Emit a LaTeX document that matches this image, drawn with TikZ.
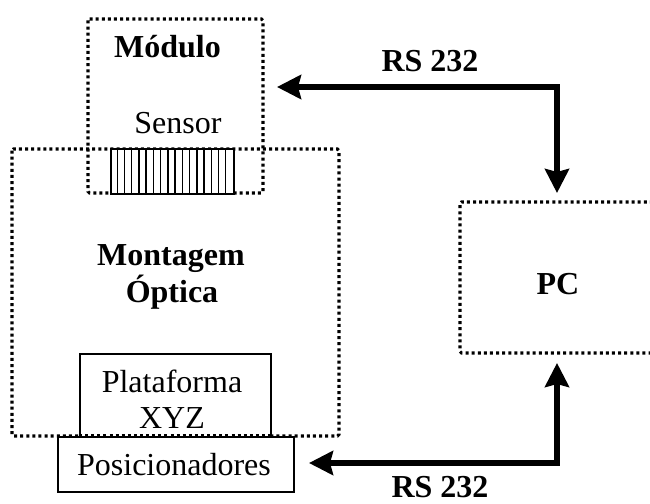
\documentclass[tikz,border=0pt]{standalone}
\usepackage{fontspec}
\setmainfont{Liberation Serif}
\usetikzlibrary{arrows.meta,calc}
\begin{document}
\begin{tikzpicture}[x=1pt,y=-1pt,
  txt/.style={inner sep=0pt,anchor=base,font=\fontsize{32}{36}\selectfont},
  btxt/.style={txt,font=\fontsize{32}{36}\selectfont\bfseries},
  dotbox/.style={draw,line width=3.1pt,dash pattern=on 3pt off 3.1pt,rounded corners=1.5pt},
  solidbox/.style={draw,line width=2pt,fill=white},
  rs/.style={line width=6pt,{Stealth[length=24pt,width=24pt,inset=3pt]}-{Stealth[length=24pt,width=24pt,inset=3pt]}}
]
\useasboundingbox (0,0) rectangle (650,503);

% outer dotted frames
\draw[dotbox] (12,149) rectangle (339,436);
\draw[dotbox] (88,19) rectangle (263,193);
\coordinate (moduloE) at (263,106);
\begin{scope}
  \clip (0,0) rectangle (650,503);
  \draw[dotbox] (720,202) -- (460,202) -- (460,353) -- (720,353);
\end{scope}
\coordinate (pcN) at (557,202);
\coordinate (pcS) at (557,353);

% sensor array
\node[solidbox,line width=1.8pt,minimum width=123pt,minimum height=45pt,inner sep=0pt,anchor=north west] (sensor) at (110,148) {};
\foreach \i in {1,...,16}
  \draw[line width=1.4pt] ($(sensor.north west)+(\i*7.235,0)$) -- ($(sensor.south west)+(\i*7.235,0)$);

% stage and positioners
\node[solidbox,minimum width=191pt,minimum height=83pt,inner sep=0pt,anchor=north west] (plataforma) at (79,353) {};
\draw[dotbox] (79,436) -- (270,436);
\node[solidbox,minimum width=236pt,minimum height=55pt,inner sep=0pt,anchor=north west] (posic) at (57,436) {};

% labels
\node[btxt] (lmodulo) at (167.5,58) {Módulo};
\node[txt] (lsensor) at (178,133) {Sensor};
\node[btxt] (lmont1) at (171,265) {Montagem};
\node[btxt] (lmont2) at (172,302) {Óptica};
\node[txt] (lplat1) at (172,392) {Plataforma};
\node[txt] (lplat2) at (172,428) {XYZ};
\node[txt] (lposic) at (174,475) {Posicionadores};
\node[btxt] (lpc) at (558,294) {PC};
\node[btxt] (lrs1) at (430,71) {RS 232};
\node[btxt] (lrs2) at (440,497) {RS 232};

% serial links
\coordinate (c1) at (557,87);
\coordinate (c2) at (557,463);
\draw[rs,shorten <=14pt,shorten >=9pt] (moduloE |- c1) -- (c1) -- (pcN);
\draw[rs,shorten <=14pt,shorten >=10pt] (posic.east |- c2) -- (c2) -- (pcS);
\end{tikzpicture}
\end{document}
